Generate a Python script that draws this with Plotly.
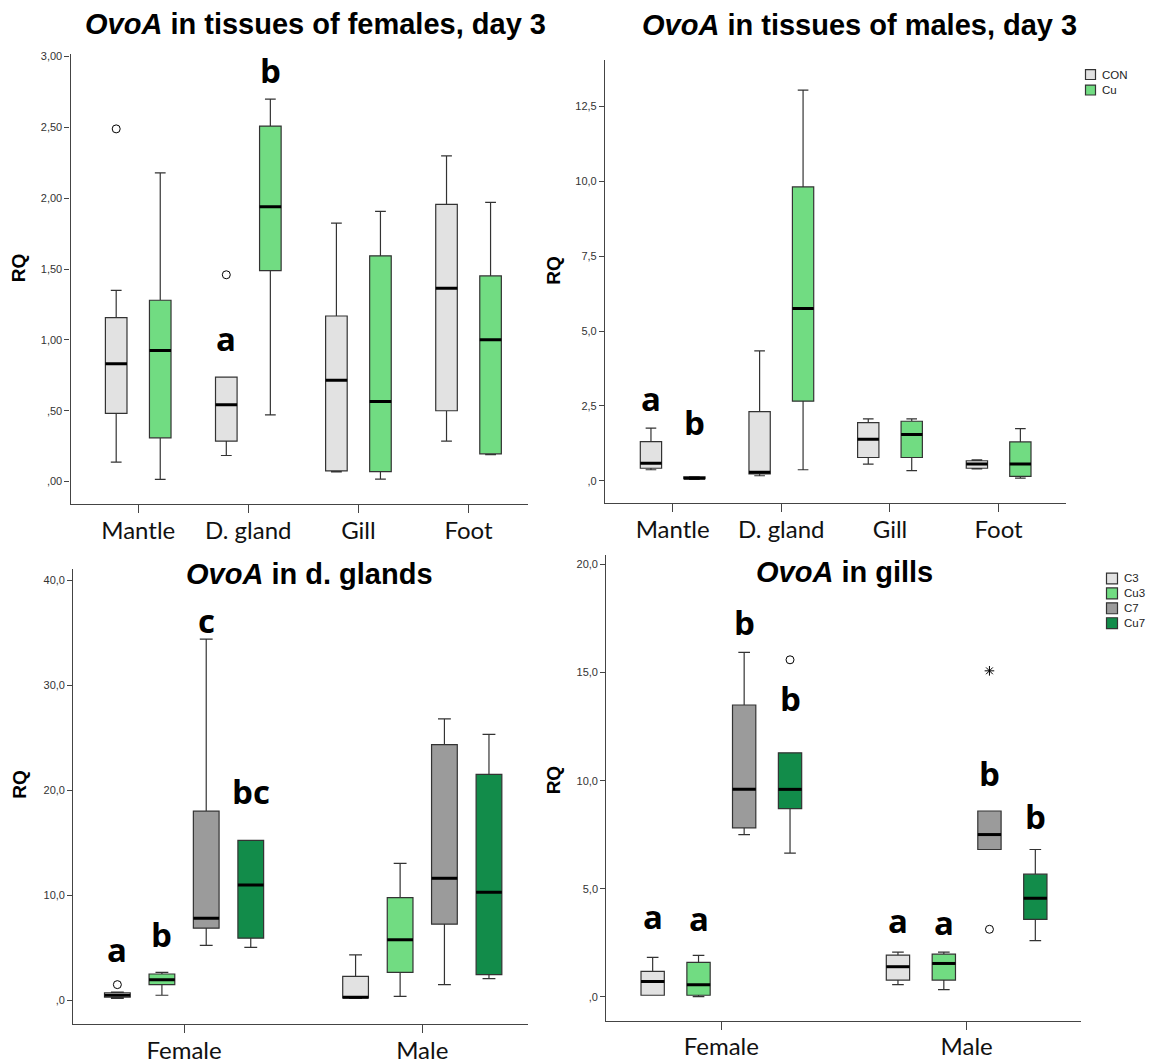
import plotly.graph_objects as go

W, H = 1151, 1064

# ---------------- Panel 1: OvoA in tissues of females, day 3 ----------------
tissues = ["Mantle", "D. gland", "Gill", "Foot"]
groups_day3 = ["CON", "Cu"]

fem_con_low = [0.138, 0.184, 0.068, 0.285]
fem_con_q1 = [0.481, 0.285, 0.075, 0.500]
fem_con_med = [0.831, 0.543, 0.715, 1.365]
fem_con_q3 = [1.157, 0.737, 1.169, 1.957]
fem_con_high = [1.350, 0.737, 1.824, 2.300]
fem_cu_low = [0.015, 0.471, 0.017, 0.191]
fem_cu_q1 = [0.309, 1.490, 0.070, 0.196]
fem_cu_med = [0.925, 1.940, 0.565, 1.002]
fem_cu_q3 = [1.280, 2.510, 1.594, 1.452]
fem_cu_high = [2.180, 2.700, 1.908, 1.971]
fem_con_out_cat = [0, 1]
fem_con_out_val = [2.49, 1.46]
fem_letter_cat = [1, 1]
fem_letter_grp = [0, 1]
fem_letter_val = [1.01, 2.90]
fem_letter_txt = ["a", "b"]
fem_yticks = [0, 0.5, 1.0, 1.5, 2.0, 2.5, 3.0]
fem_yticktext = [",00", ",50", "1,00", "1,50", "2,00", "2,50", "3,00"]

# ---------------- Panel 2: OvoA in tissues of males, day 3 ----------------
mal_con_low = [0.37, 0.17, 0.56, 0.40]
mal_con_q1 = [0.42, 0.23, 0.78, 0.42]
mal_con_med = [0.59, 0.29, 1.39, 0.56]
mal_con_q3 = [1.31, 2.31, 1.94, 0.67]
mal_con_high = [1.76, 4.34, 2.07, 0.70]
mal_cu_low = [0.05, 0.37, 0.34, 0.09]
mal_cu_q1 = [0.07, 2.66, 0.78, 0.15]
mal_cu_med = [0.09, 5.75, 1.55, 0.56]
mal_cu_q3 = [0.13, 9.81, 1.99, 1.30]
mal_cu_high = [0.14, 13.04, 2.07, 1.74]
mal_letter_cat = [0, 0]
mal_letter_grp = [0, 1]
mal_letter_val = [2.76, 1.96]
mal_letter_txt = ["a", "b"]
mal_yticks = [0, 2.5, 5.0, 7.5, 10.0, 12.5]
mal_yticktext = [",0", "2,5", "5,0", "7,5", "10,0", "12,5"]

# ---------------- Panel 3: OvoA in d. glands ----------------
sexes = ["Female", "Male"]
groups_time = ["C3", "Cu3", "C7", "Cu7"]

dg_c3_low = [0.22, 0.22]
dg_c3_q1 = [0.32, 0.25]
dg_c3_med = [0.50, 0.32]
dg_c3_q3 = [0.75, 2.31]
dg_c3_high = [0.80, 4.36]
dg_cu3_low = [0.51, 0.41]
dg_cu3_q1 = [1.52, 2.69]
dg_cu3_med = [1.99, 5.79]
dg_cu3_q3 = [2.53, 9.80]
dg_cu3_high = [2.69, 13.06]
dg_c7_low = [5.25, 1.52]
dg_c7_q1 = [6.89, 7.27]
dg_c7_med = [7.84, 11.64]
dg_c7_q3 = [18.02, 24.35]
dg_c7_high = [34.40, 26.81]
dg_cu7_low = [5.06, 2.09]
dg_cu7_q1 = [5.94, 2.47]
dg_cu7_med = [11.00, 10.31]
dg_cu7_q3 = [15.24, 21.53]
dg_cu7_high = [15.24, 25.33]
dg_c3_out_cat = [0]
dg_c3_out_val = [1.52]
dg_letter_cat = [0, 0, 0, 0]
dg_letter_grp = [0, 1, 2, 3]
dg_letter_val = [4.84, 6.26, 36.2, 19.86]
dg_letter_txt = ["a", "b", "c", "bc"]
dg_yticks = [0, 10, 20, 30, 40]
dg_yticktext = [",0", "10,0", "20,0", "30,0", "40,0"]

# ---------------- Panel 4: OvoA in gills ----------------
gi_c3_low = [0.08, 0.57]
gi_c3_q1 = [0.08, 0.78]
gi_c3_med = [0.72, 1.40]
gi_c3_q3 = [1.18, 1.94]
gi_c3_high = [1.83, 2.07]
gi_cu3_low = [0.02, 0.34]
gi_cu3_q1 = [0.08, 0.78]
gi_cu3_med = [0.57, 1.55]
gi_cu3_q3 = [1.60, 1.98]
gi_cu3_high = [1.92, 2.07]
gi_c7_low = [7.51, 6.82]
gi_c7_q1 = [7.82, 6.82]
gi_c7_med = [9.60, 7.51]
gi_c7_q3 = [13.50, 8.60]
gi_c7_high = [15.93, 8.60]
gi_cu7_low = [6.65, 2.61]
gi_cu7_q1 = [8.71, 3.59]
gi_cu7_med = [9.60, 4.56]
gi_cu7_q3 = [11.29, 5.68]
gi_cu7_high = [11.29, 6.82]
gi_cu7_out_cat = [0]
gi_cu7_out_val = [15.59]
gi_c7_out_cat = [1]
gi_c7_out_val = [3.13]
gi_c7_extreme_cat = [1]
gi_c7_extreme_val = [15.08]
gi_letter_cat = [0, 0, 0, 0, 1, 1, 1, 1]
gi_letter_grp = [0, 1, 2, 3, 0, 1, 2, 3]
gi_letter_val = [3.72, 3.64, 17.31, 13.78, 3.52, 3.46, 10.32, 8.33]
gi_letter_txt = ["a", "a", "b", "b", "a", "a", "b", "b"]
gi_yticks = [0, 5, 10, 15, 20]
gi_yticktext = [",0", "5,0", "10,0", "15,0", "20,0"]

# ---------------- styling ----------------
COL_C = "#e2e2e2"
COL_CU = "#71dc82"
COL_C7 = "#9b9b9b"
COL_CU7 = "#128c4a"
EDGE = "#333333"
TICKFONT = dict(family="Liberation Sans, Arial", size=11, color="#333333")
CATFONT = dict(family="Lato, Carlito, sans-serif", size=24, color="#111111")
LETTERFONT = dict(family="Open Sans, sans-serif", size=33, color="black")
TITLEFONT = dict(family="Liberation Sans, Arial", size=29, color="black")

fig = go.Figure()


def px_x(p):
    return p / W


def px_y(p):
    return 1 - p / H


def add_box(k, pos, low, q1, med, q3, high, color, width):
    xa = "x" if k == 1 else f"x{k}"
    ya = "y" if k == 1 else f"y{k}"
    fig.add_trace(go.Box(
        x=pos, lowerfence=low, q1=q1, median=med, q3=q3, upperfence=high,
        fillcolor=color, line=dict(color=EDGE, width=1.2), whiskerwidth=0.5,
        width=width, boxpoints=False, xaxis=xa, yaxis=ya,
        showlegend=False, hoverinfo="skip"))
    mx, my = [], []
    for p, m in zip(pos, med):
        mx += [p - width / 2, p + width / 2, None]
        my += [m, m, None]
    fig.add_trace(go.Scatter(x=mx, y=my, mode="lines",
                             line=dict(color="black", width=3),
                             xaxis=xa, yaxis=ya, showlegend=False, hoverinfo="skip"))


def add_points(k, pos, vals, symbol, size):
    xa = "x" if k == 1 else f"x{k}"
    ya = "y" if k == 1 else f"y{k}"
    fig.add_trace(go.Scatter(x=pos, y=vals, mode="markers",
                             marker=dict(symbol=symbol, size=size, color="black",
                                         line=dict(color="black", width=1)),
                             xaxis=xa, yaxis=ya, showlegend=False, hoverinfo="skip"))


annotations = []


def add_letters(k, cats, grps, vals, txts, offsets):
    xa = "x" if k == 1 else f"x{k}"
    ya = "y" if k == 1 else f"y{k}"
    for c, g, v, t in zip(cats, grps, vals, txts):
        annotations.append(dict(x=c + offsets[g], y=v, xref=xa, yref=ya, text=f"<b>{t}</b>",
                                showarrow=False, font=LETTERFONT,
                                xanchor="center", yanchor="middle"))


# ----- Panel 1 -----
off2 = [-0.2, 0.2]
cat4 = list(range(len(tissues)))
add_box(1, [c + off2[0] for c in cat4], fem_con_low, fem_con_q1, fem_con_med, fem_con_q3, fem_con_high, COL_C, 0.196)
add_box(1, [c + off2[1] for c in cat4], fem_cu_low, fem_cu_q1, fem_cu_med, fem_cu_q3, fem_cu_high, COL_CU, 0.196)
add_points(1, [c + off2[0] for c in fem_con_out_cat], fem_con_out_val, "circle-open", 8)
add_letters(1, fem_letter_cat, fem_letter_grp, fem_letter_val, fem_letter_txt, off2)

# ----- Panel 2 -----
add_box(2, [c + off2[0] for c in cat4], mal_con_low, mal_con_q1, mal_con_med, mal_con_q3, mal_con_high, COL_C, 0.196)
add_box(2, [c + off2[1] for c in cat4], mal_cu_low, mal_cu_q1, mal_cu_med, mal_cu_q3, mal_cu_high, COL_CU, 0.196)
add_letters(2, mal_letter_cat, mal_letter_grp, mal_letter_val, mal_letter_txt, off2)

# ----- Panel 3 -----
off4 = [-0.28, -0.093, 0.093, 0.28]
cat2 = list(range(len(sexes)))
add_box(3, [c + off4[0] for c in cat2], dg_c3_low, dg_c3_q1, dg_c3_med, dg_c3_q3, dg_c3_high, COL_C, 0.108)
add_box(3, [c + off4[1] for c in cat2], dg_cu3_low, dg_cu3_q1, dg_cu3_med, dg_cu3_q3, dg_cu3_high, COL_CU, 0.108)
add_box(3, [c + off4[2] for c in cat2], dg_c7_low, dg_c7_q1, dg_c7_med, dg_c7_q3, dg_c7_high, COL_C7, 0.108)
add_box(3, [c + off4[3] for c in cat2], dg_cu7_low, dg_cu7_q1, dg_cu7_med, dg_cu7_q3, dg_cu7_high, COL_CU7, 0.108)
add_points(3, [c + off4[0] for c in dg_c3_out_cat], dg_c3_out_val, "circle-open", 8)
add_letters(3, dg_letter_cat, dg_letter_grp, dg_letter_val, dg_letter_txt, off4)

# ----- Panel 4 -----
add_box(4, [c + off4[0] for c in cat2], gi_c3_low, gi_c3_q1, gi_c3_med, gi_c3_q3, gi_c3_high, COL_C, 0.095)
add_box(4, [c + off4[1] for c in cat2], gi_cu3_low, gi_cu3_q1, gi_cu3_med, gi_cu3_q3, gi_cu3_high, COL_CU, 0.095)
add_box(4, [c + off4[2] for c in cat2], gi_c7_low, gi_c7_q1, gi_c7_med, gi_c7_q3, gi_c7_high, COL_C7, 0.095)
add_box(4, [c + off4[3] for c in cat2], gi_cu7_low, gi_cu7_q1, gi_cu7_med, gi_cu7_q3, gi_cu7_high, COL_CU7, 0.095)
add_points(4, [c + off4[3] for c in gi_cu7_out_cat], gi_cu7_out_val, "circle-open", 8)
add_points(4, [c + off4[2] for c in gi_c7_out_cat], gi_c7_out_val, "circle-open", 8)
add_points(4, [c + off4[2] for c in gi_c7_extreme_cat], gi_c7_extreme_val, "asterisk-open", 8)
add_letters(4, gi_letter_cat, gi_letter_grp, gi_letter_val, gi_letter_txt, off4)


# ----- axes -----
def axis_pair(k, xdom_px, ydom_px, xrange, yrange, cats, yticks, yticktext):
    xs = "" if k == 1 else str(k)
    xa = dict(domain=[px_x(xdom_px[0]), px_x(xdom_px[1])], range=xrange,
              anchor="y" + xs, tickmode="array", tickvals=list(range(len(cats))),
              ticktext=cats, tickfont=CATFONT, ticks="outside", ticklen=8,
              ticklabelstandoff=-3,
              tickcolor="#444444", showline=True, linecolor="#444444", linewidth=1.2,
              showgrid=False, zeroline=False, fixedrange=True)
    ya = dict(domain=[px_y(ydom_px[1]), px_y(ydom_px[0])], range=yrange,
              anchor="x" + xs, tickmode="array", tickvals=yticks, ticktext=yticktext,
              tickfont=TICKFONT, ticks="outside", ticklen=5, tickcolor="#444444",
              showline=True, linecolor="#444444", linewidth=1.2,
              showgrid=False, zeroline=False, fixedrange=True)
    return {"xaxis" + xs: xa, "yaxis" + xs: ya}


layout_axes = {}
layout_axes.update(axis_pair(1, (70.5, 528), (51, 504), [-0.615, 3.54], [-0.156, 3.021], tissues, fem_yticks, fem_yticktext))
layout_axes.update(axis_pair(2, (605, 1066), (57, 503.5), [-0.623, 3.62], [-0.746, 14.06], tissues, mal_yticks, mal_yticktext))
layout_axes.update(axis_pair(3, (73.3, 527.8), (569.4, 1027.6), [-0.465, 1.443], [-2.21, 41.1], sexes, dg_yticks, dg_yticktext))
layout_axes.update(axis_pair(4, (606.3, 1080.7), (556, 1024.3), [-0.469, 1.465], [-1.09, 20.42], sexes, gi_yticks, gi_yticktext))

# ----- titles -----
titles = ["<i>OvoA</i> in tissues of females, day 3", "<i>OvoA</i> in tissues of males, day 3",
          "<i>OvoA</i> in d. glands", "<i>OvoA</i> in gills"]
title_pos = [(315, 21), (860, 22), (309, 575), (844, 573)]
for t, (x, y) in zip(titles, title_pos):
    annotations.append(dict(x=px_x(x), y=px_y(y), xref="paper", yref="paper", text=f"<b>{t}</b>",
                            showarrow=False, font=TITLEFONT, xanchor="center", yanchor="middle"))

# ----- RQ labels -----
rq_pos = [(18, 267), (553.5, 269), (20, 787), (553.5, 782)]
for x, y in rq_pos:
    annotations.append(dict(x=px_x(x), y=px_y(y), xref="paper", yref="paper", text="<b>RQ</b>",
                            textangle=-90, showarrow=False,
                            font=dict(family="Liberation Sans, Arial", size=19, color="black"),
                            xanchor="center", yanchor="middle"))

# ----- legends (drawn as layout shapes + text) -----
shapes = []


def add_legend(names, colors, x0, y0, step, sw):
    for i, (n, c) in enumerate(zip(names, colors)):
        yc = y0 + i * step
        shapes.append(dict(type="rect", xref="paper", yref="paper",
                           x0=px_x(x0), x1=px_x(x0 + sw), y0=px_y(yc + sw / 2), y1=px_y(yc - sw / 2),
                           fillcolor=c, line=dict(color="#333333", width=1.2)))
        annotations.append(dict(x=px_x(x0 + sw + 4), y=px_y(yc), xref="paper", yref="paper",
                                text=n, showarrow=False, xanchor="left", yanchor="middle",
                                font=dict(family="Liberation Sans, Arial", size=11.5, color="#222222")))


add_legend(groups_day3, [COL_C, COL_CU], 1085.5, 72, 15.6, 10)
add_legend(groups_time, [COL_C, COL_CU, COL_C7, COL_CU7], 1106.5, 579.3, 15.0, 11)

fig.update_layout(
    width=W, height=H, autosize=False,
    margin=dict(l=0, r=0, t=0, b=0, pad=0),
    paper_bgcolor="white", plot_bgcolor="white",
    showlegend=False, boxmode="overlay",
    annotations=annotations, shapes=shapes,
    **layout_axes,
)

fig.write_html("out.html", config={"displayModeBar": False},
               post_script="document.body.style.margin='0';")
